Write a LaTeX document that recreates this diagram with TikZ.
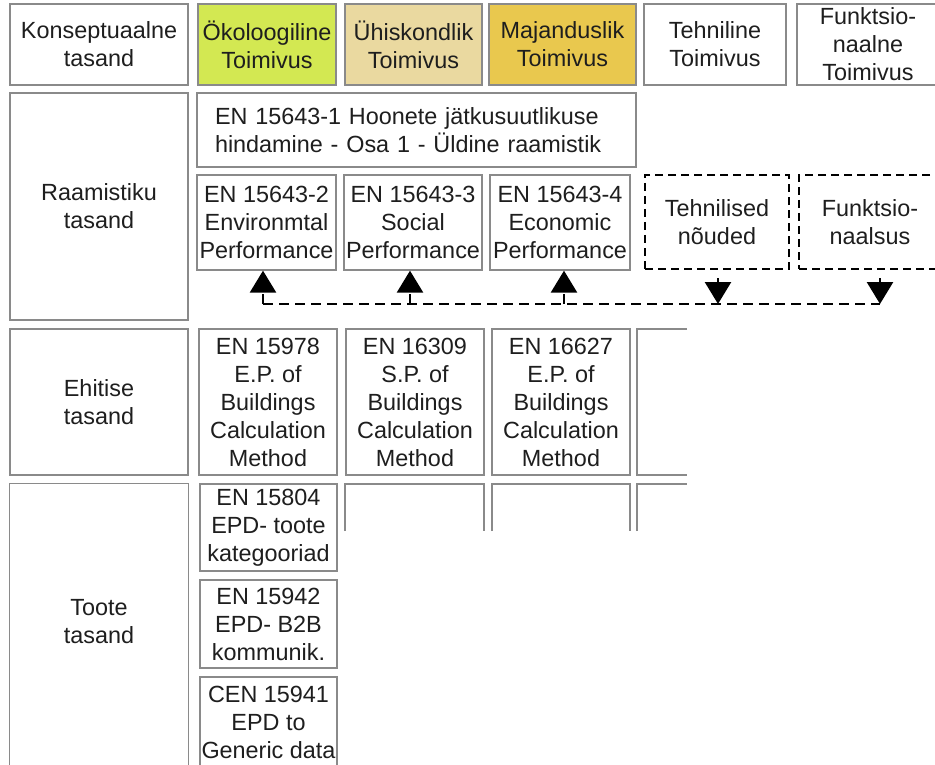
\documentclass[tikz,border=0pt]{standalone}
\usepackage{fontspec}
\setmainfont{Liberation Sans}
\usetikzlibrary{arrows.meta}
\definecolor{ecogreen}{HTML}{D3E852}
\definecolor{socialtan}{HTML}{EAD9A0}
\definecolor{econgold}{HTML}{E9C84E}
\definecolor{framegray}{HTML}{8A8A8A}
\definecolor{ink}{HTML}{1E1E1E}
\begin{document}
\begin{tikzpicture}[x=1pt,y=-1pt,
  cell/.style={draw=framegray, line width=1.3pt, rectangle, inner xsep=-4pt,
    inner ysep=0pt, align=center, text=ink,
    font=\fontsize{23.4}{28}\selectfont},
  frame/.style={draw=framegray, line width=1.3pt},
  dbox/.style={cell, draw=black, line width=2.6pt, dash pattern=on 8pt off 5pt},
  bus/.style={draw=black, line width=2.6pt, dash pattern=on 10pt off 6pt},
  flow/.style={bus, -{Triangle[width=26pt,length=22pt]}}
]
\useasboundingbox (0,0) rectangle (935,765);
\fill[white] (0,0) rectangle (935,765);

% header row: conceptual levels
\node[cell, minimum width=178, minimum height=81] (kons) at (99,44.5) {Konseptuaalne\\tasand};
\node[cell, fill=ecogreen, minimum width=138, minimum height=81] (oko) at (267,44.5) {Ökoloogiline\\Toimivus};
\node[cell, fill=socialtan, minimum width=137, minimum height=81] (uhi) at (413.5,44.5) {Ühiskondlik\\Toimivus};
\node[cell, fill=econgold, minimum width=147, minimum height=81] (maj) at (562.5,44.5) {Majanduslik\\Toimivus};
\node[cell, minimum width=142, minimum height=81] (teh) at (715,44.5) {Tehniline\\Toimivus};
\node[cell, minimum width=142, minimum height=81] (fun) at (868,44.5) {Funktsio-\\naalne\\Toimivus};

% framework level
\node[cell, minimum width=178, minimum height=227] (raam) at (99,206.5) {Raamistiku\\tasand};
\node[cell, minimum width=439, minimum height=74, inner xsep=18pt, text width=403pt, align=left] (en1) at (416.5,130)
  {EN 15643-1 Hoonete jätkusuutlikuse\\hindamine - Osa 1 - Üldine raamistik};
\node[cell, minimum width=139, minimum height=95] (en2) at (266.5,222.5) {EN 15643-2\\Environmtal\\Performance};
\node[cell, minimum width=138, minimum height=95] (en3) at (413,222.5) {EN 15643-3\\Social\\Performance};
\node[cell, minimum width=140, minimum height=95] (en4) at (560,222.5) {EN 15643-4\\Economic\\Performance};
\node[dbox, minimum width=144, minimum height=94] (tech) at (717,222) {Tehnilised\\nõuded};
\node[dbox, minimum width=142, minimum height=94] (func) at (870,222) {Funktsio-\\naalsus};

% dashed bus linking the framework standards
\coordinate (busL) at (263,304);
\coordinate (busR) at (880,304);
\coordinate (up3) at (410,304);
\coordinate (up4) at (564,304);
\coordinate (dn1) at (718,304);
\draw[bus] (busL) -- (busR);
\draw[flow] (busL) -- (busL |- en2.south);
\draw[flow] (up3) -- (up3 |- en3.south);
\draw[flow] (up4) -- (up4 |- en4.south);
\draw[flow, shorten <=8pt] (dn1 |- tech.south) -- (dn1);
\draw[flow, shorten <=8pt] (busR |- func.south) -- (busR);

% building level
\node[cell, minimum width=178, minimum height=146] (ehit) at (99,402) {Ehitise\\tasand};
\node[cell, minimum width=138, minimum height=146] (en15978) at (268,402) {EN 15978\\E.P. of\\Buildings\\Calculation\\Method};
\node[cell, minimum width=138, minimum height=146] (en16309) at (415,402) {EN 16309\\S.P. of\\Buildings\\Calculation\\Method};
\node[cell, minimum width=138, minimum height=146] (en16627) at (561,402) {EN 16627\\E.P. of\\Buildings\\Calculation\\Method};
\draw[frame] (687,329) -- (637,329) -- (637,475) -- (687,475);

% product level
\coordinate (pagefoot) at (0,790);
\node[cell, draw=none, minimum width=178, minimum height=276] (toote) at (99,622) {Toote\\tasand};
\draw[frame] (toote.north west |- pagefoot) -- (toote.north west) -- (toote.north east) -- (toote.north east |- pagefoot);
\node[cell, minimum width=137, minimum height=87] (en15804) at (268.5,527.5) {EN 15804\\EPD- toote\\kategooriad};
\node[cell, minimum width=137, minimum height=88] (en15942) at (268.5,624) {EN 15942\\EPD- B2B\\kommunik.};
\node[cell, minimum width=137, minimum height=90] (cen15941) at (268.5,722) {CEN 15941\\EPD to\\Generic data};
\draw[frame] (345,531) -- (345,484) -- (484,484) -- (484,531);
\draw[frame] (492,531) -- (492,484) -- (630,484) -- (630,531);
\draw[frame] (637,531) -- (637,484) -- (687,484);
\end{tikzpicture}
\end{document}
